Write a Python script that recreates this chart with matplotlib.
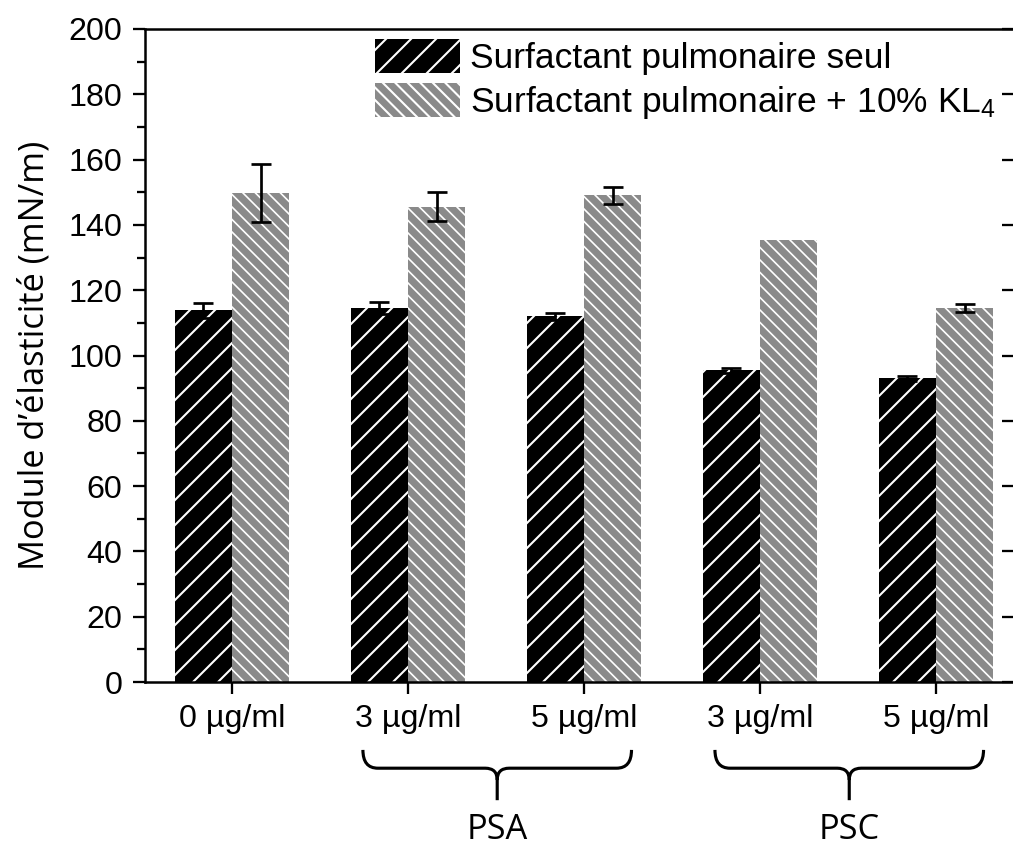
import numpy as np
import matplotlib
matplotlib.use("Agg")
import matplotlib.pyplot as plt
from matplotlib.path import Path
from matplotlib.patches import PathPatch, Patch
from matplotlib.transforms import blended_transform_factory

plt.rcParams['font.family'] = ['Liberation Sans', 'DejaVu Sans']
plt.rcParams['mathtext.fontset'] = 'custom'
plt.rcParams['mathtext.rm'] = 'Liberation Sans'
plt.rcParams['mathtext.it'] = 'Liberation Sans:italic'

# data
conc_labels = ['0 µg/ml', '3 µg/ml', '5 µg/ml', '3 µg/ml', '5 µg/ml']
seul = [113.8, 114.6, 112.0, 95.5, 93.0]
seul_err = [2.2, 1.9, 1.0, 0.8, 0.8]
kl4 = [149.7, 145.6, 149.1, 135.4, 114.6]
kl4_err = [8.8, 4.4, 2.6, np.nan, 1.3]
groups = ['PSA', 'PSC']
group_members = [(1, 2), (3, 4)]
series_names = ['Surfactant pulmonaire seul', 'Surfactant pulmonaire + 10% KL$_4$']

dpi = 150
fig = plt.figure(figsize=(1013 / dpi, 849 / dpi), dpi=dpi)
ax = fig.add_axes([145 / 1013, 167 / 849, 869 / 1013, 653 / 849])

x = np.arange(len(conc_labels))
w = 0.325
black_c = '#000000'
grey_c = '#8a8a8a'
black_hatch = '//'
grey_hatch = '\\\\\\\\'

# hatch width is picked up when the patches are made
with plt.rc_context({'hatch.linewidth': 1.0}):
    ax.bar(x - w / 2, seul, w, color=black_c, edgecolor='white', linewidth=0, hatch=black_hatch)
    h_black = Patch(facecolor=black_c, edgecolor='white', linewidth=0, hatch=black_hatch)
with plt.rc_context({'hatch.linewidth': 0.8}):
    ax.bar(x + w / 2, kl4, w, color=grey_c, edgecolor='white', linewidth=0, hatch=grey_hatch)
    h_grey = Patch(facecolor=grey_c, edgecolor='white', linewidth=0, hatch=grey_hatch)

ax.errorbar(x - w / 2, seul, yerr=seul_err, fmt='none', ecolor='black',
            elinewidth=1.3, capsize=5, capthick=1.3)
ax.errorbar(x + w / 2, kl4, yerr=kl4_err, fmt='none', ecolor='black',
            elinewidth=1.3, capsize=5, capthick=1.3)

ax.set_xlim(-0.494, 4.443)
ax.set_ylim(0, 200)
ax.set_yticks(np.arange(0, 201, 20))
ax.set_yticks(np.arange(10, 200, 20), minor=True)
ax.set_xticks(x)
ax.set_xticklabels(conc_labels)
ax.tick_params(axis='both', which='major', labelsize=15.5, length=5.8, width=1.1,
               direction='out')
ax.tick_params(axis='y', which='major', pad=5.0)
ax.tick_params(axis='x', which='major', pad=5.0)
ax.tick_params(axis='y', which='minor', length=3.8, width=1.1, direction='out')
for sp in ax.spines.values():
    sp.set_linewidth(1.2)

# inward ticks on the right side
ax_r = ax.twinx()
ax_r.set_ylim(0, 200)
ax_r.set_yticks(np.arange(0, 201, 20))
ax_r.tick_params(axis='y', direction='in', length=5.8, width=1.1, labelright=False)
for sp in ax_r.spines.values():
    sp.set_visible(False)

ax.set_ylabel('Module d’élasticité (mN/m)', family=['Open Sans', 'DejaVu Sans'],
              fontsize=16.5, labelpad=8)

ax.legend([h_black, h_grey], series_names, loc='upper left',
          bbox_to_anchor=(0.265, 0.984), frameon=False, fontsize=17,
          handlelength=2.4, handleheight=1.1, handletextpad=0.28,
          labelspacing=0.2, borderpad=0, borderaxespad=0)

# group braces under the tick labels
trans = blended_transform_factory(ax.transData, ax.transAxes)
y_top, y_mid, y_knee, y_bot = -0.104, -0.132, -0.150, -0.181
rx, rc = 0.085, 0.068


def brace(x0, x1):
    xc = (x0 + x1) / 2
    verts = [(x0, y_top), (x0, y_mid), (x0 + rx, y_mid),
             (xc - rc, y_mid), (xc, y_mid), (xc, y_knee), (xc, y_bot),
             (x1, y_top), (x1, y_mid), (x1 - rx, y_mid),
             (xc + rc, y_mid), (xc, y_mid), (xc, y_knee)]
    codes = [Path.MOVETO, Path.CURVE3, Path.CURVE3,
             Path.LINETO, Path.CURVE3, Path.CURVE3, Path.LINETO,
             Path.MOVETO, Path.CURVE3, Path.CURVE3,
             Path.LINETO, Path.CURVE3, Path.CURVE3]
    ax.add_patch(PathPatch(Path(verts, codes), transform=trans, fill=False,
                           edgecolor='black', linewidth=1.5, clip_on=False,
                           capstyle='butt'))
    return xc


for name, (i0, i1) in zip(groups, group_members):
    xc = brace(i0 - 0.256, i1 + 0.27)
    ax.text(xc, -0.226, name, transform=trans, ha='center', va='center',
            fontsize=16.5, family=['Open Sans', 'DejaVu Sans'])

fig.savefig('out.png', dpi=dpi)
